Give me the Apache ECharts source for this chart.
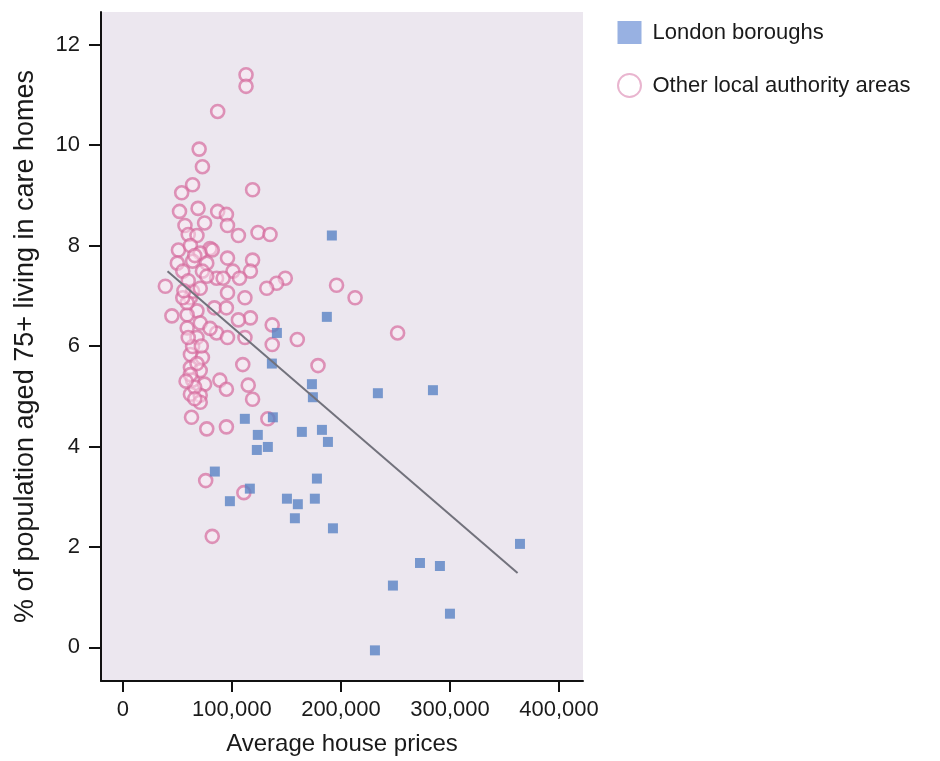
<!DOCTYPE html>
<html><head><meta charset="utf-8">
<script src="https://cdn.jsdelivr.net/npm/echarts@6/dist/echarts.min.js"></script>
<style>html,body{margin:0;padding:0;background:#fff}#c{width:940px;height:761px}</style>
</head><body><div id="c"></div>
<script>
// London boroughs: average house price vs % aged 75+ in care homes
const londonX = [191700,187100,141300,136700,173400,233900,284400,174300,137600,111900,123800,122900,133000,164200,182600,188100,84400,116500,98200,178000,176100,150500,160500,157800,192700,364200,272500,290800,247700,300000,231200];
const londonY = [8.20,6.58,6.26,5.65,5.24,5.06,5.12,4.98,4.58,4.55,4.23,3.93,3.99,4.29,4.33,4.09,3.50,3.16,2.91,3.36,2.96,2.96,2.85,2.57,2.37,2.06,1.68,1.62,1.23,0.67,-0.06];
// Other local authority areas
const otherX = [113000,113000,87000,70000,73000,64000,119000,54000,69000,52000,87000,95000,96000,57000,124000,135000,106000,60000,68000,51000,62000,80000,71000,82000,96000,119000,50000,64000,77000,55000,73000,101000,117000,86000,107000,149000,141000,132000,39000,62000,112000,196000,213000,84000,95000,68000,45000,59000,117000,106000,137000,59000,86000,68000,96000,112000,160000,137000,252000,62000,73000,110000,179000,62000,71000,64000,75000,89000,115000,62000,71000,95000,119000,71000,63000,77000,95000,133000,76000,111000,82000,64000,71000,59000,71000,64000,68000,62000,66000,55000,77000,60000,92000,96000,60000,66000,58000,66000,72000,80000,75000,56000];
const otherY = [11.40,11.17,10.67,9.92,9.57,9.21,9.11,9.05,8.74,8.68,8.68,8.62,8.40,8.40,8.26,8.22,8.20,8.22,8.20,7.91,8.00,7.94,7.85,7.91,7.75,7.71,7.65,7.69,7.65,7.49,7.49,7.49,7.49,7.35,7.35,7.35,7.25,7.15,7.19,6.96,6.96,7.21,6.96,6.76,6.76,6.70,6.60,6.62,6.56,6.52,6.42,6.36,6.26,6.17,6.17,6.17,6.13,6.03,6.26,5.83,5.77,5.63,5.61,5.57,5.51,5.32,5.24,5.32,5.22,5.04,5.02,5.14,4.94,4.88,4.58,4.35,4.39,4.55,3.32,3.08,2.21,7.09,7.15,6.86,6.46,5.99,5.65,5.43,5.18,6.96,7.39,6.17,7.35,7.06,7.30,7.80,5.30,4.95,6.00,6.35,8.45,7.10];
// Trend line end points
const trendX = [41000, 362000];
const trendY = [7.49, 1.48];
// Tick values
const xTicks = [0, 100000, 200000, 300000, 400000];
const yTicks = [0, 2, 4, 6, 8, 10, 12];

const FONT = "'Liberation Sans', Arial, sans-serif";
const zip = (a, b) => a.map((v, i) => [v, b[i]]);
const fmt = v => String(v).replace(/\B(?=(\d{3})+(?!\d))/g, ',');

const chart = echarts.init(document.getElementById('c'), null, {renderer: 'canvas'});
chart.setOption({
  animation: false,
  backgroundColor: '#ffffff',
  textStyle: {fontFamily: FONT},
  grid: {left: 101, right: 357, top: 12, bottom: 75, show: true, backgroundColor: '#ece7ef', borderWidth: 0},
  legend: {
    orient: 'vertical', left: 612, top: 16, itemWidth: 24, itemHeight: 23, itemGap: 29,
    textStyle: {fontSize: 22, color: '#1a1a1a', fontFamily: FONT, padding: [0, 0, 0, 6]},
    data: [
      {name: 'London boroughs', icon: 'rect', itemStyle: {color: '#7e9ddb', borderWidth: 0}},
      {name: 'Other local authority areas', icon: 'circle', itemStyle: {color: '#ffffff', borderColor: '#e3a3c3', borderWidth: 2}}
    ]
  },
  xAxis: {
    type: 'value', min: -20000, max: 422000,
    name: 'Average house prices', nameLocation: 'middle', nameGap: 51,
    nameTextStyle: {fontSize: 24, color: '#1a1a1a', fontFamily: FONT},
    axisLine: {show: true, onZero: false, lineStyle: {color: '#111', width: 2}},
    axisTick: {show: true, length: 11, customValues: xTicks, lineStyle: {color: '#111', width: 2}},
    axisLabel: {customValues: xTicks, formatter: v => fmt(v), fontSize: 22, color: '#1a1a1a', margin: 18, fontFamily: FONT},
    splitLine: {show: false}
  },
  yAxis: {
    type: 'value', min: -0.67, max: 12.65,
    name: '% of population aged 75+ living in care homes', nameLocation: 'middle', nameGap: 62,
    nameTextStyle: {fontSize: 27, color: '#1a1a1a', fontFamily: FONT},
    axisLine: {show: true, onZero: false, lineStyle: {color: '#111', width: 2}},
    axisTick: {show: true, length: 12, customValues: yTicks, lineStyle: {color: '#111', width: 2}},
    axisLabel: {customValues: yTicks, fontSize: 22, color: '#1a1a1a', margin: 21, fontFamily: FONT},
    splitLine: {show: false}
  },
  series: [
    {
      name: 'Other local authority areas', type: 'scatter', symbol: 'circle', symbolSize: 13,
      itemStyle: {color: 'rgba(255,236,246,0.55)', borderColor: 'rgba(212,104,155,0.85)', borderWidth: 2.6},
      data: zip(otherX, otherY), z: 2
    },
    {
      name: 'London boroughs', type: 'scatter', symbol: 'rect', symbolSize: 10,
      itemStyle: {color: '#5a83c4'},
      data: zip(londonX, londonY), z: 3
    },
    {
      name: 'trend', type: 'line', symbol: 'none', silent: true,
      lineStyle: {color: '#72727c', width: 2},
      data: zip(trendX, trendY), z: 4
    }
  ]
});
</script>
</body></html>
